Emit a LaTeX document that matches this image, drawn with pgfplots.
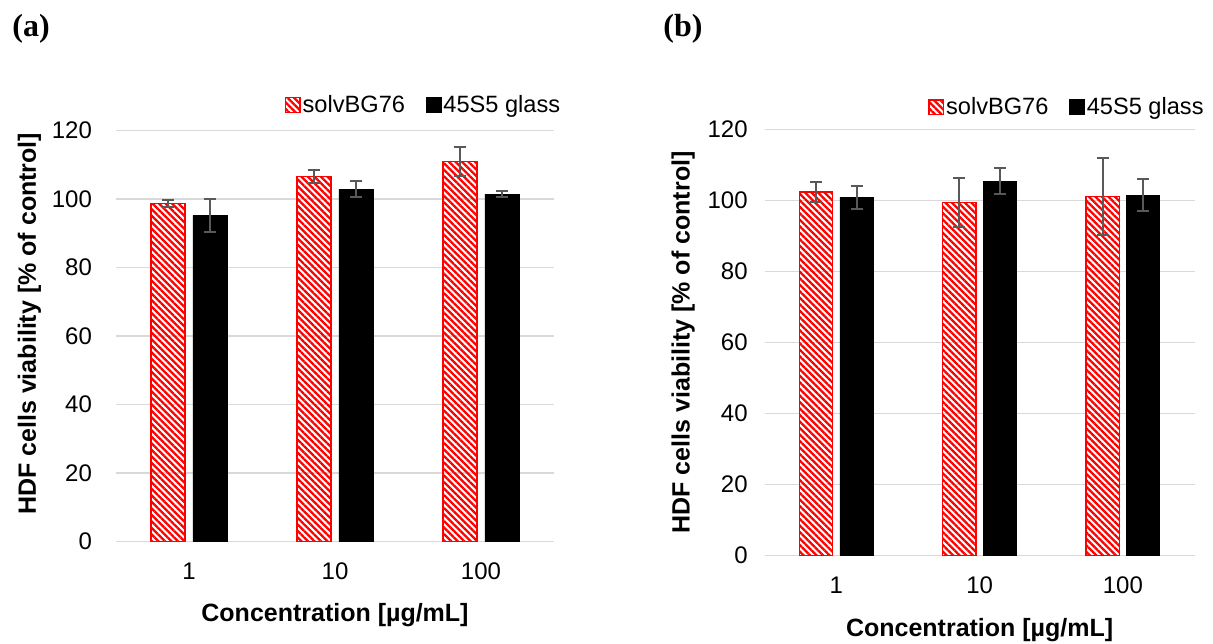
\documentclass[border=0pt]{standalone}
\usepackage{fontspec}
\setmainfont{Liberation Sans}
\newfontfamily\seriffont{Liberation Serif}
\usepackage{pgfplots}
\pgfplotsset{compat=1.18}
\usetikzlibrary{patterns.meta}

\definecolor{gridgray}{HTML}{D9D9D9}
\definecolor{errgray}{HTML}{595959}

\pgfplotsset{
  vbars/.style={
    scale only axis,
    anchor=south west,
    xmin=0.5, xmax=3.5,
    ymin=0, ymax=120,
    ytick={0,20,...,120},
    xtick={1,2,3},
    xticklabels={1,10,100},
    ymajorgrids,
    major grid style={gridgray, line width=0.75pt},
    axis line style={draw=none},
    major tick length=0pt,
    /pgf/number format/assume math mode=true,
    tick label style={font=\fontsize{12}{14}\selectfont, black},
    xticklabel style={yshift=-7pt},
    label style={font=\bfseries\fontsize{12.5}{15}\selectfont},
    ylabel={HDF cells viability [\% of control]},
    xlabel={Concentration [µg/mL]},
    legend columns=2,
    legend cell align=left,
    legend style={draw=none, fill=none, inner sep=0pt, anchor=west,
      font=\fontsize{11.8}{14}\selectfont,
      nodes={inner sep=1pt},
      /tikz/every even column/.append style={column sep=9.5pt}},
    error bars/y dir=both,
    error bars/y explicit,
    error bars/error bar style={errgray, line width=1pt},
    error bars/error mark options={rotate=90, errgray, mark size=3pt, line width=1pt},
  },
  sqlegend/.style={legend image code/.code={\draw[##1] (0pt,-3.65pt) rectangle (7.3pt,3.65pt);}},
  solv/.style={draw=red, line width=0.75pt,
    pattern={Lines[angle=-45,distance=2.3pt,line width=1.15pt]}, pattern color=red, sqlegend},
  glass/.style={draw=black, fill=black, sqlegend},
}

\begin{document}
\begin{tikzpicture}
\useasboundingbox (0,0) rectangle (606.5pt,321.5pt);

\node[anchor=base west, inner sep=0pt, font=\seriffont\bfseries\fontsize{16}{18}\selectfont] at (6pt,303pt) {(a)};
\node[anchor=base west, inner sep=0pt, font=\seriffont\bfseries\fontsize{16}{18}\selectfont] at (331.5pt,303pt) {(b)};

% (a)
\begin{axis}[vbars,
  at={(58pt,50.65pt)}, width=219pt, height=205.6pt,
  ybar=3.9pt, bar width=17pt,
  yticklabel style={xshift=-8.5pt},
  ylabel style={at={(axis description cs:-0.1975,0.53)}, rotate=0, anchor=center},
  xlabel style={at={(axis description cs:0.5,-0.1945)}, anchor=base},
  legend style={at={(axis description cs:0.384,1.062)}},
]
\addplot[solv] coordinates {(1,98.7) +- (0,0.9) (2,106.6) +- (0,1.8) (3,111.0) +- (0,4.3)};
\addplot[glass] coordinates {(1,95.2) +- (0,4.7) (2,102.9) +- (0,2.4) (3,101.4) +- (0,0.8)};
\legend{solvBG76, 45S5 glass}
\end{axis}

% (b)
\begin{axis}[vbars,
  at={(382.35pt,43.75pt)}, width=214.9pt, height=213.1pt,
  ybar=3.6pt, bar width=16.7pt,
  yticklabel style={xshift=-5pt},
  ylabel style={at={(axis description cs:-0.19,0.5)}, rotate=0, anchor=center},
  xlabel style={at={(axis description cs:0.5,-0.1905)}, anchor=base},
  legend style={at={(axis description cs:0.379,1.052)}},
]
\addplot[solv] coordinates {(1,102.3) +- (0,2.8) (2,99.4) +- (0,7.0) (3,101.1) +- (0,10.8)};
\addplot[glass] coordinates {(1,100.9) +- (0,3.2) (2,105.4) +- (0,3.6) (3,101.5) +- (0,4.5)};
\legend{solvBG76, 45S5 glass}
\end{axis}
\end{tikzpicture}
\end{document}
